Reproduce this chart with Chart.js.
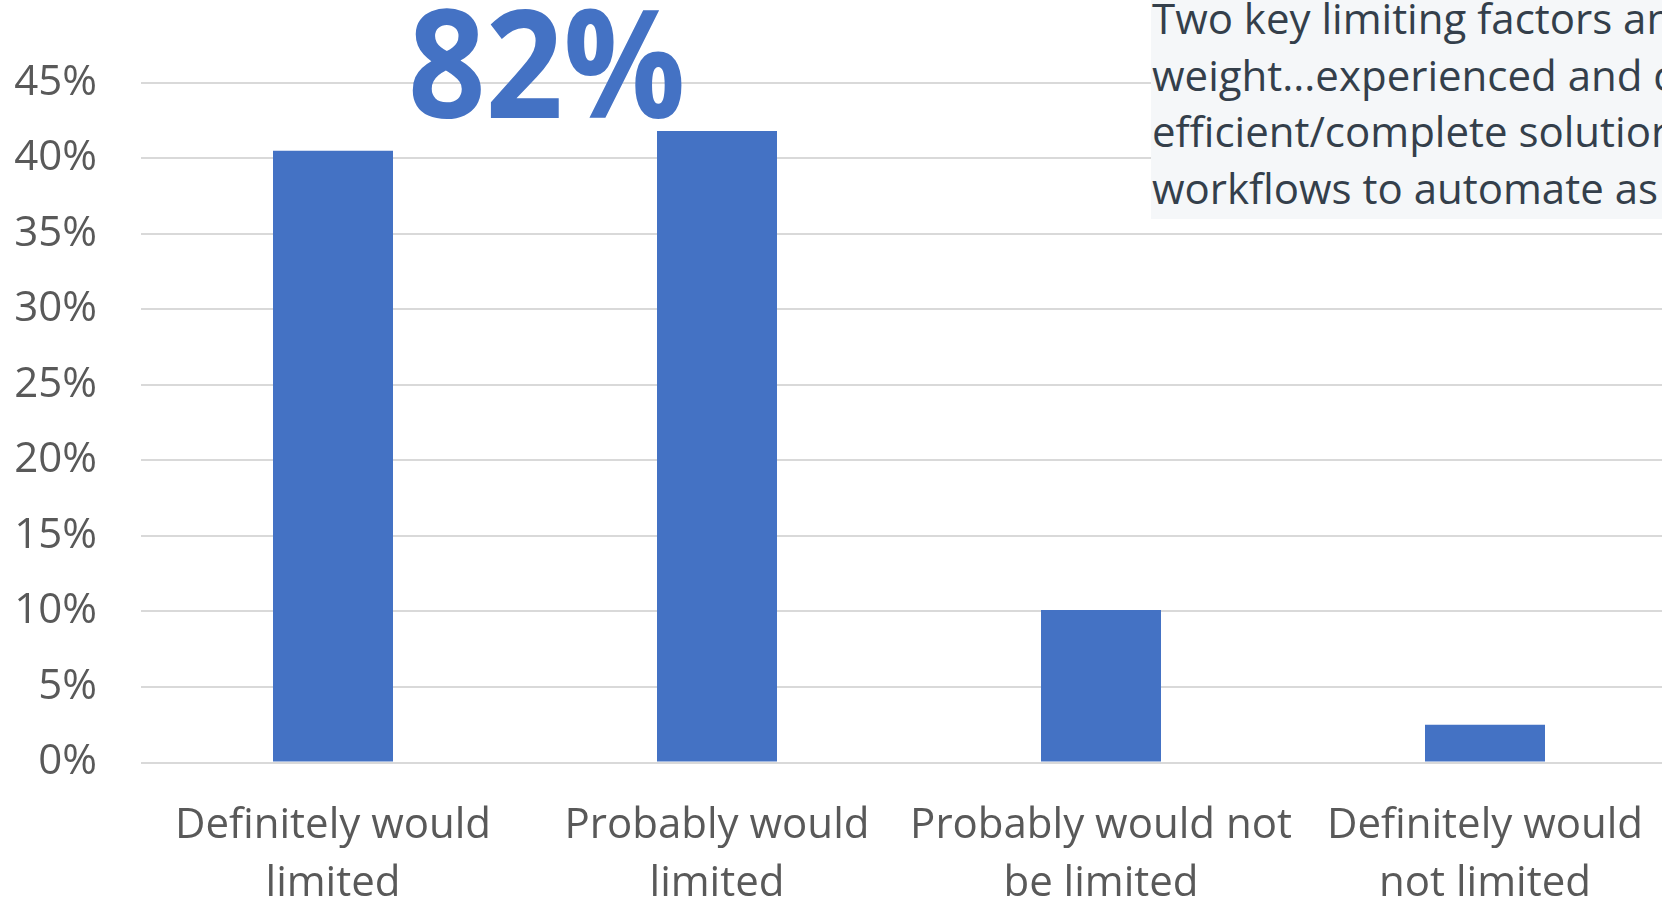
<!DOCTYPE html>
<html>
<head>
<meta charset="utf-8">
<script src="https://cdn.jsdelivr.net/npm/chart.js@4.4.1/dist/chart.umd.min.js"></script>
<style>
  html, body { margin: 0; padding: 0; width: 1662px; height: 903px; overflow: hidden; background: #fff; }
  #wrap { position: absolute; left: 0; top: 0; width: 1680px; height: 903px; }
  #note-bg { position: absolute; left: 1151px; top: 0; width: 600px; height: 219px; background: #f5f7f9; }
  #note { position: absolute; left: 1152px; top: -10px; font-family: "Open Sans", sans-serif; font-size: 42px; line-height: 56.5px; color: #343f4b; white-space: nowrap; }
  #big { position: absolute; left: 408px; top: -15px; font-family: "Open Sans", sans-serif; font-weight: 700; font-size: 150px; line-height: 150px; color: #4472c4; white-space: nowrap; transform: scaleX(0.905); transform-origin: left top; }
</style>
</head>
<body>
<div id="wrap"><canvas id="c" width="1680" height="903"></canvas></div>
<div id="note-bg"></div>
<div id="note">Two key limiting factors an<br>weight...experienced and c<br>efficient/complete solutior<br>workflows to automate as</div>
<div id="big">82%</div>
<script>
const categories = [
  ["Definitely would", "limited"],
  ["Probably would", "limited"],
  ["Probably would not", "be limited"],
  ["Definitely would", "not limited"]
];
const shares = [40.5, 41.8, 10.1, 2.5];
const yTicks = [0, 5, 10, 15, 20, 25, 30, 35, 40, 45];

const FONT = "'Open Sans', sans-serif";
new Chart(document.getElementById('c'), {
  type: 'bar',
  data: {
    labels: categories,
    datasets: [{ data: shares, backgroundColor: '#4472c4', borderWidth: 0, barPercentage: 0.3125, categoryPercentage: 1 }]
  },
  options: {
    responsive: false,
    animation: false,
    layout: { padding: { top: 82.7, right: 3, bottom: 0, left: 0 } },
    plugins: { legend: { display: false }, tooltip: { enabled: false } },
    scales: {
      x: {
        grid: { display: false, drawTicks: false },
        border: { display: false },
        ticks: { font: { family: FONT, size: 42, lineHeight: 1.38 }, color: '#595959', padding: 35, maxRotation: 0, autoSkip: false },
        afterFit: s => { s.height = 140.5; }
      },
      y: {
        min: 0, max: 45,
        afterBuildTicks: s => { s.ticks = yTicks.map(v => ({ value: v })); },
        grid: { color: '#d9d9d9', lineWidth: 2, drawTicks: false },
        border: { display: false },
        ticks: { font: { family: FONT, size: 42 }, color: '#595959', padding: 44, callback: v => v + '%' },
        afterFit: s => { s.width = 141; }
      }
    }
  }
});
</script>
</body>
</html>
